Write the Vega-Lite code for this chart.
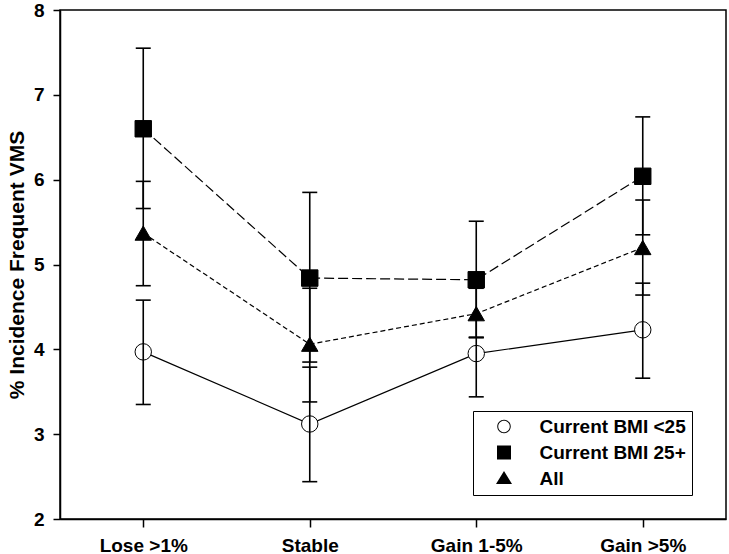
{
  "$schema": "https://vega.github.io/schema/vega-lite/v6.json",
  "autosize": {"type": "none"},
  "width": 666,
  "height": 509,
  "padding": {"left": 60, "top": 10, "right": 3, "bottom": 35},
  "background": "white",
  "config": {
    "font": "Liberation Sans",
    "view": {"stroke": "black", "strokeWidth": 1.5},
    "axis": {"grid": false, "domainColor": "black", "domainWidth": 1.5, "tickColor": "black", "tickWidth": 1.5, "labelColor": "black", "labelFont": "Liberation Sans", "labelFontWeight": "bold", "labelFontSize": 19, "titleFont": "Liberation Sans", "titleFontWeight": "bold", "titleFontSize": 21, "titleColor": "black"}
  },
  "data": {"values": [
    {"cat": "Lose >1%", "series": "Current BMI <25", "value": 3.97, "lo": 3.35, "hi": 4.58},
    {"cat": "Lose >1%", "series": "Current BMI 25+", "value": 6.60, "lo": 5.66, "hi": 7.55},
    {"cat": "Lose >1%", "series": "All", "value": 5.37, "lo": 4.75, "hi": 5.98},
    {"cat": "Stable", "series": "Current BMI <25", "value": 3.12, "lo": 2.44, "hi": 3.79},
    {"cat": "Stable", "series": "Current BMI 25+", "value": 4.84, "lo": 3.85, "hi": 5.85},
    {"cat": "Stable", "series": "All", "value": 4.06, "lo": 3.38, "hi": 4.72},
    {"cat": "Gain 1-5%", "series": "Current BMI <25", "value": 3.95, "lo": 3.44, "hi": 4.14},
    {"cat": "Gain 1-5%", "series": "Current BMI 25+", "value": 4.82, "lo": 4.14, "hi": 5.51},
    {"cat": "Gain 1-5%", "series": "All", "value": 4.42, "lo": 4.14, "hi": 4.72},
    {"cat": "Gain >5%", "series": "Current BMI <25", "value": 4.23, "lo": 3.66, "hi": 4.78},
    {"cat": "Gain >5%", "series": "Current BMI 25+", "value": 6.04, "lo": 5.35, "hi": 6.74},
    {"cat": "Gain >5%", "series": "All", "value": 5.20, "lo": 4.64, "hi": 5.76}
  ]},
  "encoding": {
    "x": {"field": "cat", "type": "nominal", "sort": ["Lose >1%", "Stable", "Gain 1-5%", "Gain >5%"],
      "scale": {"type": "point", "padding": 0.5},
      "axis": {"title": null, "labelAngle": 0, "tickSize": 8, "labelPadding": 9}}
  },
  "layer": [
    {
      "transform": [{"filter": "datum.series === 'Current BMI <25'"}],
      "mark": {"type": "line", "color": "black", "strokeWidth": 1.2},
      "encoding": {
        "y": {"field": "value", "type": "quantitative", "scale": {"domain": [2, 8], "nice": false, "zero": false},
          "axis": {"title": "% Incidence Frequent VMS", "values": [2, 3, 4, 5, 6, 7, 8], "format": "d", "tickSize": 7, "labelPadding": 9, "titlePadding": 6}}
      }
    },
    {
      "transform": [{"filter": "datum.series === 'Current BMI 25+'"}],
      "mark": {"type": "line", "color": "black", "strokeWidth": 1.2, "strokeDash": [10, 4]},
      "encoding": {"y": {"field": "value", "type": "quantitative"}}
    },
    {
      "transform": [{"filter": "datum.series === 'All'"}],
      "mark": {"type": "line", "color": "black", "strokeWidth": 1.2, "strokeDash": [5, 3]},
      "encoding": {"y": {"field": "value", "type": "quantitative"}}
    },
    {
      "mark": {"type": "point", "filled": true, "stroke": "black", "strokeWidth": 1, "opacity": 1, "size": 270},
      "encoding": {
        "y": {"field": "value", "type": "quantitative"},
        "shape": {"condition": [
          {"test": "datum.series === 'Current BMI <25'", "value": "circle"},
          {"test": "datum.series === 'Current BMI 25+'", "value": "square"}
        ], "value": "triangle-up"},
        "fill": {"condition": {"test": "datum.series === 'Current BMI <25'", "value": "white"}, "value": "black"}
      }
    },
    {
      "mark": {"type": "point", "filled": true, "fill": "black", "stroke": "black", "strokeWidth": 1, "opacity": 0, "size": 100},
      "encoding": {
        "y": {"field": "value", "type": "quantitative"},
        "shape": {"field": "series", "type": "nominal", "title": null,
          "scale": {"domain": ["Current BMI <25", "Current BMI 25+", "All"],
            "range": [
              "M-5,0H-1.35M1.35,0H5M-1.35,0A1.35,1.35,0,1,0,1.35,0A1.35,1.35,0,1,0,-1.35,0ZM-1.15,0A1.15,1.15,0,1,1,1.15,0A1.15,1.15,0,1,1,-1.15,0Z",
              "M-5,0H-1.4M1.4,0H5M-1.4,-1.4H1.4V1.4H-1.4Z",
              "M-5,0H-4.2M-3.5,0H-2.6M-1.9,0H-1.6M-1.6,1.1L0,-1.5L1.6,1.1ZM1.6,0H2.2M2.9,0H3.8M4.5,0H5"
            ]},
          "legend": {
            "orient": "none", "legendX": 413, "legendY": 401,
            "padding": 6, "strokeColor": "black", "fillColor": "white",
            "labelFont": "Liberation Sans", "labelFontWeight": "bold", "labelFontSize": 19, "labelColor": "black",
            "symbolSize": 100, "symbolOffset": 15.5, "labelOffset": 26, "rowPadding": 6, "labelLimit": 300,
            "symbolOpacity": 1, "symbolFillColor": "black", "symbolStrokeColor": "black", "symbolStrokeWidth": 1
          }}
      }
    },
    {
      "mark": {"type": "rule", "color": "black", "strokeWidth": 1.6},
      "encoding": {
        "y": {"field": "lo", "type": "quantitative"},
        "y2": {"field": "hi"}
      }
    },
    {
      "transform": [{"fold": ["lo", "hi"], "as": ["end", "bound"]}],
      "mark": {"type": "tick", "color": "black", "size": 15, "thickness": 1.6, "opacity": 1},
      "encoding": {
        "y": {"field": "bound", "type": "quantitative"}
      }
    }
  ]
}
